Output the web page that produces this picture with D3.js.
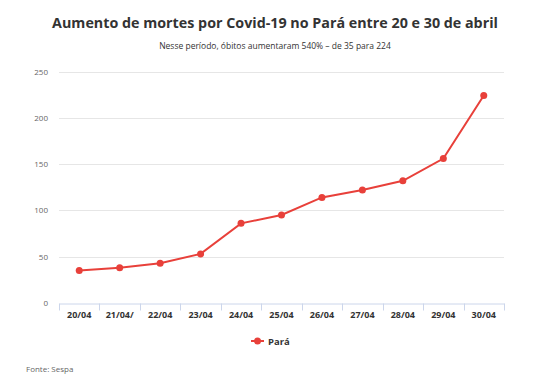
<!DOCTYPE html>
<html>
<head>
<meta charset="utf-8">
<script src="https://cdn.jsdelivr.net/npm/d3@7"></script>
<style>
  body { margin: 0; background: #fff; }
  svg { font-family: "Open Sans", sans-serif; }
</style>
</head>
<body>
<svg id="chart" width="550" height="383"></svg>
<script>
// data
var days = ["20/04", "21/04/", "22/04", "23/04", "24/04", "25/04", "26/04", "27/04", "28/04", "29/04", "30/04"];
var deaths = [35, 38, 43, 53, 86, 95, 114, 122, 132, 156, 224];
var yTicks = [0, 50, 100, 150, 200, 250];

var svg = d3.select("#chart");
var red = "#e8403a";

var x = d3.scaleBand().domain(days).range([59, 504]);
var y = d3.scaleLinear().domain([0, 250]).range([303, 71.5]);

// title + subtitle
svg.append("text")
    .attr("x", 275).attr("y", 28)
    .attr("text-anchor", "middle")
    .style("font-size", "14.3px").style("font-weight", "bold").style("fill", "#333")
    .text("Aumento de mortes por Covid-19 no Pará entre 20 e 30 de abril");
svg.append("text")
    .attr("x", 275).attr("y", 49)
    .attr("text-anchor", "middle")
    .style("font-size", "8.5px").style("fill", "#333")
    .text("Nesse período, óbitos aumentaram 540% – de 35 para 224");

// grid lines
svg.append("g").selectAll("line")
    .data(yTicks.slice(1))
    .enter().append("line")
    .attr("x1", 59).attr("x2", 504)
    .attr("y1", function(d){ return Math.round(y(d)) + 0.5; })
    .attr("y2", function(d){ return Math.round(y(d)) + 0.5; })
    .style("stroke", "#e6e6e6");

// y labels
svg.append("g").selectAll("text")
    .data(yTicks)
    .enter().append("text")
    .attr("x", 48)
    .attr("y", function(d){ return y(d) + 3; })
    .attr("text-anchor", "end")
    .style("font-size", "8px").style("fill", "#666")
    .text(function(d){ return d; });

// x axis
var xAxis = svg.append("g")
    .attr("transform", "translate(0,303.5)")
    .call(d3.axisBottom(x).tickSize(0).tickPadding(8));
xAxis.select(".domain").style("stroke", "#ccd6eb");
xAxis.selectAll("text")
    .style("font-size", "9px").style("font-weight", "bold").style("fill", "#333")
    .style("font-family", "'Open Sans', sans-serif");
// tick marks between bands
xAxis.selectAll(".sep")
    .data(days.concat([null]))
    .enter().append("line")
    .attr("class", "sep")
    .attr("x1", function(d, i){ return Math.round(59 + i * x.bandwidth()) + 0.5; })
    .attr("x2", function(d, i){ return Math.round(59 + i * x.bandwidth()) + 0.5; })
    .attr("y1", 0).attr("y2", 7)
    .style("stroke", "#ccd6eb");

// line + points
var line = d3.line()
    .x(function(d, i){ return x(days[i]) + x.bandwidth() / 2; })
    .y(function(d){ return y(d); });

svg.append("path")
    .datum(deaths)
    .attr("d", line)
    .style("fill", "none").style("stroke", red).style("stroke-width", 2);

svg.append("g").selectAll("circle")
    .data(deaths)
    .enter().append("circle")
    .attr("cx", function(d, i){ return x(days[i]) + x.bandwidth() / 2; })
    .attr("cy", function(d){ return y(d); })
    .attr("r", 3.5)
    .style("fill", red);

// legend
var legend = svg.append("g").attr("transform", "translate(251,341)");
legend.append("line").attr("x1", 0).attr("x2", 13).attr("y1", 0).attr("y2", 0)
    .style("stroke", red).style("stroke-width", 2);
legend.append("circle").attr("cx", 6.5).attr("cy", 0).attr("r", 3.5).style("fill", red);
legend.append("text").attr("x", 17).attr("y", 3.5)
    .style("font-size", "9.5px").style("font-weight", "bold").style("fill", "#333")
    .text("Pará");

// source
svg.append("text")
    .attr("x", 26).attr("y", 372)
    .style("font-size", "8px").style("fill", "#666")
    .text("Fonte: Sespa");
</script>
</body>
</html>
